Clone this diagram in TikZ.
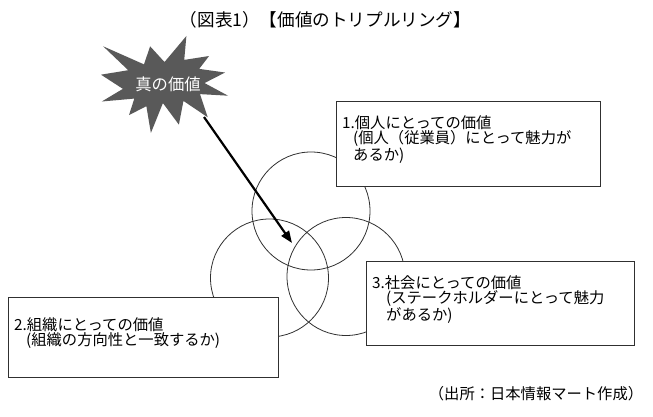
\documentclass[tikz,border=0pt]{standalone}
\usepackage{fontspec}
\setmainfont{Noto Sans CJK JP}
\usetikzlibrary{arrows.meta}
\definecolor{burstgray}{HTML}{595959}
\definecolor{linegray}{HTML}{303030}
\tikzset{
  ring/.style={draw=linegray, line width=0.8pt},
  infobox/.style={draw=linegray, line width=0.9pt, fill=white, rectangle, inner sep=0pt, anchor=north west},
  infotext/.style={anchor=north west, inner sep=0pt, align=left, font=\fontsize{15.3}{15}\selectfont, text=black},
  bigarrow/.style={line width=2.2pt, -{Triangle[length=12pt,width=9pt]}},
}
\begin{document}
\begin{tikzpicture}[x=1pt, y=-1pt]
\path[fill=white, use as bounding box] (0,0) rectangle (653,417);

% title
\node[font=\fontsize{17.6}{17.6}\selectfont, inner sep=0pt] (title) at (325.5,20) {（図表1）【価値のトリプルリング】};

% circles
\draw[ring] (311,211) circle[radius=59];
\draw[ring] (269.5,278) circle[radius=59];
\draw[ring] (346,276.5) circle[radius=59];

% starburst (Explosion 1)
\begin{scope}[shift={(101,36)}, x=1.27pt, y=-0.97pt]
\fill[burstgray] (50,26.85) -- (67.23,0) -- (65.53,24.65) -- (85.09,20.63) -- (77.32,33.87)
  -- (97.67,37.67) -- (81.51,48.50) -- (100,61.53) -- (77.95,59.92) -- (84.00,83.77)
  -- (64.91,66.93) -- (61.33,91.38) -- (48.76,69.14) -- (39.28,100) -- (35.72,72.35)
  -- (22.05,81.56) -- (26.24,64.52) -- (0.625,67.53) -- (17.23,54.51) -- (0,39.88)
  -- (21.42,35.26) -- (1.71,10.63) -- (33.85,29.26) -- (38.67,10.63) -- cycle;
\end{scope}
\node[text=white, font=\fontsize{16.3}{16}\selectfont, inner sep=0pt] (burst) at (168,84) {真の価値};

% boxes
\node[infobox, minimum width=264pt, minimum height=85pt] (b1) at (336,101) {};
\node[infobox, minimum width=270pt, minimum height=80pt] (b2) at (8,297) {};
\node[infobox, minimum width=268pt, minimum height=84pt] (b3) at (366,261) {};

\node[infotext] (t1) at (342,115.5) {1.個人にとっての価値\\\hspace*{11pt}(個人（従業員）にとって魅力が\\\hspace*{11pt}あるか)};
\node[infotext] (t2) at (14,317.5) {2.組織にとっての価値\\\hspace*{12pt}(組織の方向性と一致するか)};
\node[infotext] (t3) at (372,275.5) {3.社会にとっての価値\\\hspace*{14pt}(ステークホルダーにとって魅力\\\hspace*{14pt}があるか)};

% arrow
\coordinate (arrowstart) at (204,117);
\coordinate (arrowtip) at (292,243);
\draw[bigarrow] (arrowstart) -- (arrowtip);

% source
\node[font=\fontsize{15.3}{15}\selectfont, inner sep=0pt] (source) at (536,394) {（出所：日本情報マート作成）};
\end{tikzpicture}
\end{document}
